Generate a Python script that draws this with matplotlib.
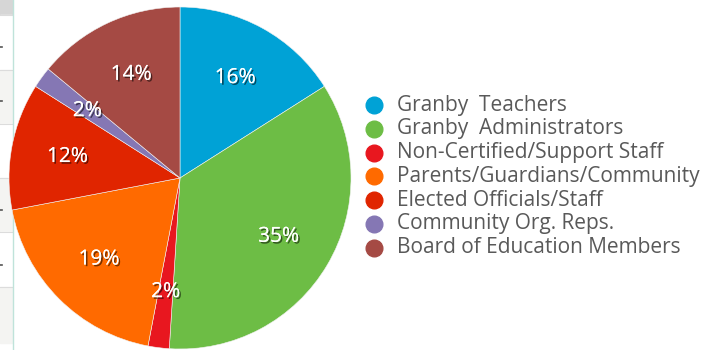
import matplotlib.pyplot as plt
import matplotlib.patheffects as pe
from matplotlib.lines import Line2D
from matplotlib.patches import Rectangle

categories = [
    "Granby  Teachers",
    "Granby  Administrators",
    "Non-Certified/Support Staff",
    "Parents/Guardians/Community",
    "Elected Officials/Staff",
    "Community Org. Reps.",
    "Board of Education Members",
]
shares = [16, 35, 2, 19, 12, 2, 14]
colors = ["#00A2D6", "#6DBD45", "#E8171F", "#FF6A00", "#E02500", "#8577B4", "#A54A44"]

plt.rcParams["font.family"] = ["Open Sans", "DejaVu Sans"]

W, H = 711, 350
fig = plt.figure(figsize=(W / 100, H / 100), dpi=100)

# spreadsheet cells peeking out on the left edge
grid_ax = fig.add_axes([0, 0, 1, 1], zorder=0)
grid_ax.set_xlim(0, W)
grid_ax.set_ylim(H, 0)
grid_ax.axis("off")
grid_ax.add_patch(Rectangle((0, 0), 12, 15, color="#D6D6D6"))
rows = [15, 70, 124, 178, 232, 287, 343]
for i in range(len(rows) - 1):
    shade = "#F4F4F2" if i % 2 else "#FFFFFF"
    grid_ax.add_patch(Rectangle((0, rows[i]), 12, rows[i + 1] - rows[i], color=shade))
    grid_ax.plot([0, 12], [rows[i], rows[i]], color="#DCDCDC", lw=0.8)
for y in [47, 101, 210, 265]:
    grid_ax.plot([0, 1.5], [y, y], color="#555555", lw=1.2)
grid_ax.plot([12.5, 12.5], [0, H], color="#BFE3DA", lw=1.0)

# pie, clockwise from 12 o'clock
cx, cy, r = 180, 178, 171
ax = fig.add_axes([(cx - r) / W, (H - cy - r) / H, 2 * r / W, 2 * r / H], zorder=1)
wedges, texts, autotexts = ax.pie(
    shares,
    colors=colors,
    startangle=90,
    counterclock=False,
    autopct=lambda p: f"{p:.0f}%",
    pctdistance=0.67,
    radius=1.0,
    wedgeprops=dict(edgecolor="#F2F2F2", linewidth=0.4),
)
ax.set_xlim(-1, 1)
ax.set_ylim(-1, 1)
shadow = [pe.withSimplePatchShadow(offset=(1.2, -1.2), shadow_rgbFace="#000000", alpha=0.55), pe.Normal()]
for t in autotexts:
    t.set_color("white")
    t.set_fontsize(15)
    t.set_path_effects(shadow)

# legend
leg_ax = fig.add_axes([0, 0, 1, 1], zorder=2)
leg_ax.set_xlim(0, W)
leg_ax.set_ylim(H, 0)
leg_ax.axis("off")
for i, (name, col) in enumerate(zip(categories, colors)):
    y = 105 + i * 23.8
    leg_ax.add_line(Line2D([373.5], [y], marker="o", markersize=12, color=col, linestyle="none"))
    leg_ax.text(397, y, name, color="#595959", fontsize=15, va="center", ha="left")

fig.savefig("out.png", dpi=100)
